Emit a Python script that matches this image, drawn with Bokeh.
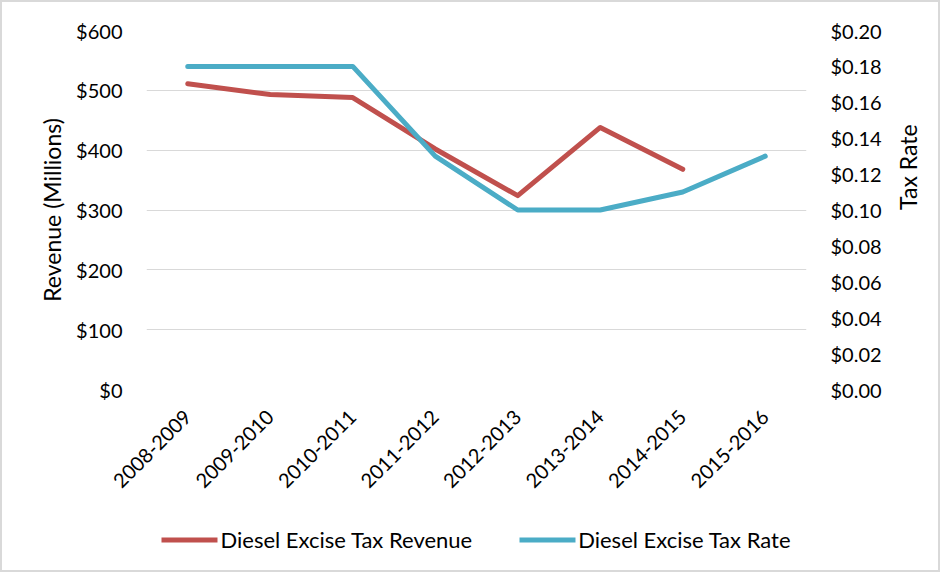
from math import pi
from bokeh.plotting import figure
from bokeh.layouts import column
from bokeh.models import (Range1d, FactorRange, LinearAxis, FixedTicker, PrintfTickFormatter,
                          Legend, LegendItem, ColumnDataSource)
from bokeh.embed import file_html
from bokeh.resources import INLINE

years = ["2008-2009", "2009-2010", "2010-2011", "2011-2012",
         "2012-2013", "2013-2014", "2014-2015", "2015-2016"]
revenue = [511, 493, 488, 402, 324, 438, 368]  # millions $, no 2015-2016 value
tax_rate = [0.18, 0.18, 0.18, 0.13, 0.10, 0.10, 0.11, 0.13]
left_ticks = [0, 100, 200, 300, 400, 500, 600]
right_ticks = [0.00, 0.02, 0.04, 0.06, 0.08, 0.10, 0.12, 0.14, 0.16, 0.18, 0.20]
series_names = ["Diesel Excise Tax Revenue", "Diesel Excise Tax Rate"]

RED = "#C0504D"
BLUE = "#4BACC6"
FONT = "Lato"
TXT = "#000000"

p = figure(x_range=years, y_range=Range1d(0, 600), width=936, height=500,
           output_backend="svg", toolbar_location=None,
           min_border_left=144, min_border_right=129, min_border_top=28,
           min_border_bottom=113)
p.extra_y_ranges = {"rate": Range1d(0, 0.2)}
p.outline_line_color = None

rev_src = ColumnDataSource(dict(x=years[:len(revenue)], y=revenue))
rate_src = ColumnDataSource(dict(x=years, y=tax_rate))

p.line("x", "y", source=rev_src, line_color=RED, line_width=5,
       line_cap="round", line_join="round")
p.line("x", "y", source=rate_src, line_color=BLUE, line_width=5,
       line_cap="round", line_join="round", y_range_name="rate")

# grid
p.xgrid.grid_line_color = None
p.ygrid.grid_line_color = "#d9d9d9"
p.ygrid.grid_line_width = 1
p.ygrid.ticker = FixedTicker(ticks=left_ticks)

# left axis
ya = p.yaxis[0]
ya.ticker = FixedTicker(ticks=left_ticks)
ya.formatter = PrintfTickFormatter(format="$%d")
ya.axis_line_color = None
ya.major_tick_line_color = None
ya.minor_tick_line_color = None
ya.major_tick_out = 0
ya.minor_tick_out = 0
ya.major_label_standoff = 24
ya.major_label_text_font = FONT
ya.major_label_text_font_size = "20px"
ya.major_label_text_color = TXT
ya.axis_label = "Revenue (Millions)"
ya.axis_label_text_font = FONT
ya.axis_label_text_font_size = "23px"
ya.axis_label_text_font_style = "normal"
ya.axis_label_text_color = TXT
ya.axis_label_standoff = 7

# right axis
ra = LinearAxis(y_range_name="rate", ticker=FixedTicker(ticks=right_ticks),
                formatter=PrintfTickFormatter(format="$%.2f"))
ra.axis_line_color = None
ra.major_tick_line_color = None
ra.minor_tick_line_color = None
ra.major_tick_out = 0
ra.minor_tick_out = 0
ra.major_label_standoff = 24
ra.major_label_text_font = FONT
ra.major_label_text_font_size = "20px"
ra.major_label_text_color = TXT
ra.axis_label = "Tax Rate"
ra.axis_label_text_font = FONT
ra.axis_label_text_font_size = "23px"
ra.axis_label_text_font_style = "normal"
ra.axis_label_text_color = TXT
ra.axis_label_standoff = 23
if "axis_label_orientation" in ra.properties():
    ra.axis_label_orientation = pi / 2
p.add_layout(ra, "right")

# bottom axis
xa = p.xaxis[0]
xa.axis_line_color = None
xa.major_tick_line_color = None
xa.minor_tick_line_color = None
xa.major_tick_out = 0
xa.minor_tick_out = 0
xa.major_label_orientation = pi / 4
xa.major_label_standoff = 24
xa.major_label_text_font = FONT
xa.major_label_text_font_size = "20px"
xa.major_label_text_color = TXT

# legend strip below the chart (its lines fall outside its own view)
q = figure(width=936, height=68, output_backend="svg", toolbar_location=None,
           x_range=FactorRange(factors=years), y_range=Range1d(-2, -1),
           min_border_left=32, min_border_right=0, min_border_top=6,
           min_border_bottom=0)
q.axis.visible = False
q.grid.grid_line_color = None
q.outline_line_color = None
l1 = q.line("x", "y", source=rev_src, line_color=RED, line_width=5, line_cap="round")
l2 = q.line("x", "y", source=rate_src, line_color=BLUE, line_width=5, line_cap="round")
legend = Legend(items=[LegendItem(label=series_names[0], renderers=[l1]),
                       LegendItem(label=series_names[1], renderers=[l2])],
                orientation="horizontal", location="center",
                border_line_color=None, background_fill_alpha=0,
                padding=0, margin=0, spacing=47, glyph_width=56, label_standoff=3,
                label_text_font=FONT, label_text_font_size="22px",
                label_text_color=TXT)
q.add_layout(legend, "center")

layout = column(p, q, spacing=0, styles={"border": "2px solid #d9d9d9"})

open("out.html", "w").write(file_html(layout, INLINE))
